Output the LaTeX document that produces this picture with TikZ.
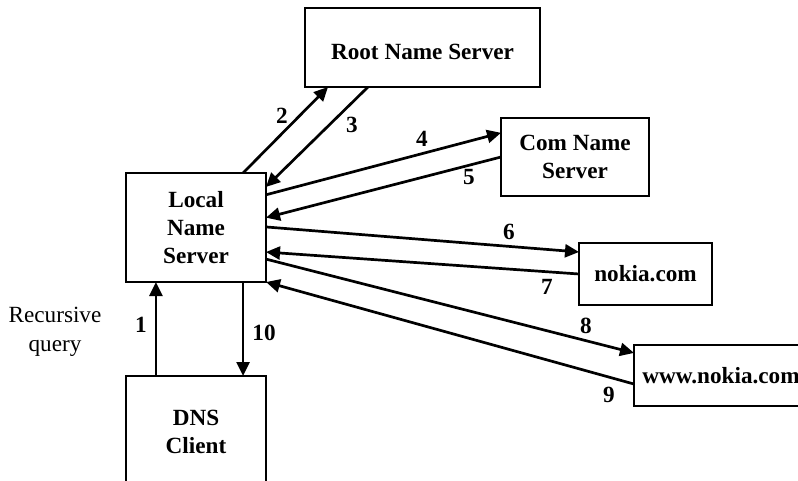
\documentclass[tikz,border=0pt]{standalone}
\usepackage{fontspec}
\setmainfont{Liberation Serif}
\usetikzlibrary{arrows.meta}
\usetikzlibrary{positioning}
\usetikzlibrary{calc}

\tikzset{
  server/.style={draw, line width=0.65pt, inner sep=0pt, outer sep=0pt, align=center,
    font=\bfseries\fontsize{11.6}{14}\selectfont},
  msg/.style={line width=1.35pt, -{Triangle[length=7pt,width=6.5pt]}},
  num/.style={font=\bfseries\fontsize{11.6}{14}\selectfont, inner sep=0pt},
}

\begin{document}
\begin{tikzpicture}[x=0.5pt, y=-0.5pt]
      \useasboundingbox (0,0) rectangle (798,481);

      % Draw the name servers
      \node[server, minimum width=70pt, minimum height=54.5pt] (local) at (196,227.5) {Local\\Name\\Server};
      \node[server, minimum width=117.5pt, minimum height=39.5pt, text height=12.5pt] (root) at (422.5,47.5) {Root Name Server};
      \node[server, minimum width=74pt, minimum height=39pt] (com) at (575,157) {Com Name\\Server};
      \node[server, minimum width=66.5pt, minimum height=31pt] (nokia) at (645.5,274) {nokia.com};
      \node[server, minimum width=87pt, minimum height=30.5pt] (www) at (721,375.5) {www.nokia.com};

      % Client below the local server
      \node[server, minimum width=70pt, minimum height=56pt, below=47pt of local] (dns) {DNS\\Client};

      % Iterative queries and answers
      \draw[msg] ($(local.north west)!0.836!(local.north east)$) -- ($(root.south west)!0.098!(root.south east)$);
      \draw[msg] ($(root.south west)!0.268!(root.south east)$) -- ($(local.north east)!0.128!(local.south east)$);
      \draw[msg] ($(local.north east)!0.2!(local.south east)$) -- ($(com.north west)!0.19!(com.south west)$);
      \draw[msg] (com.west) -- ($(local.north east)!0.41!(local.south east)$);
      \draw[msg] ($(local.north east)!0.495!(local.south east)$) -- ($(nokia.north west)!0.145!(nokia.south west)$);
      \draw[msg] (nokia.west) -- ($(local.north east)!0.725!(local.south east)$);
      \draw[msg] ($(local.north east)!0.79!(local.south east)$) -- ($(www.north west)!0.13!(www.south west)$);
      \draw[msg] ($(www.north west)!0.64!(www.south west)$) -- (local.south east);

      % Recursive query from the client
      \draw[msg] ($(dns.north west)!0.214!(dns.north east)$) coordinate (q) -- (q |- local.south);
      \draw[msg] ($(local.south west)!0.836!(local.south east)$) coordinate (r) -- (r |- dns.north);

      % Step numbers
      \foreach \n/\x/\y in {1/141/325, 2/282/116, 3/352/125, 4/422/139, 5/469/177,
                            6/509/232, 7/547/287, 8/586/326, 9/609/395, 10/264/333} {
        \node[num] (l\n) at (\x,\y) {\n};
      }

      % Labels
      \node[align=center, font=\fontsize{11.6}{14.5}\selectfont] (rq) at (55,332) {Recursive\\query};
    \end{tikzpicture}
\end{document}
